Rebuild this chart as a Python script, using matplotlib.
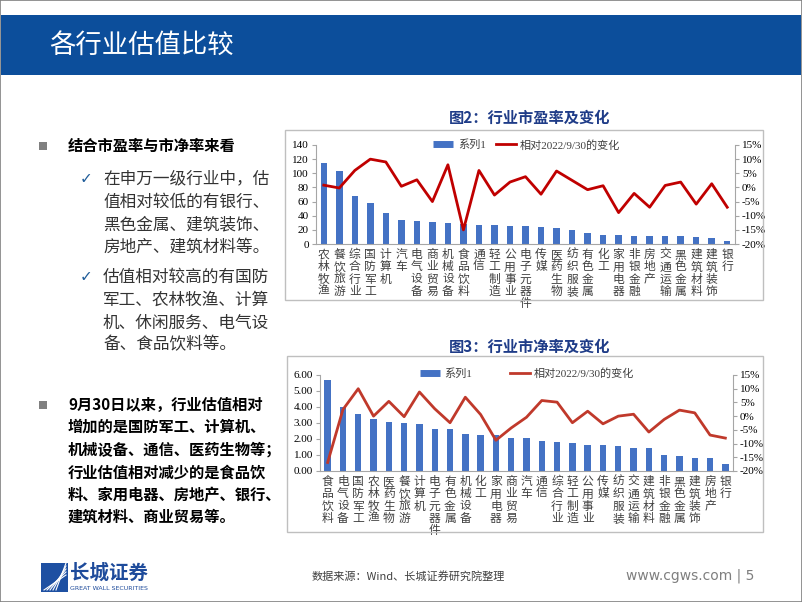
import matplotlib
matplotlib.use("Agg")
import matplotlib.pyplot as plt
from matplotlib.patches import Rectangle
from matplotlib.lines import Line2D
import numpy as np

plt.rcParams['font.family'] = ['Noto Sans CJK SC', 'DejaVu Sans']
plt.rcParams['axes.unicode_minus'] = False

# 图2 市盈率
pe_cats = ['农林牧渔', '餐饮旅游', '综合行业', '国防军工', '计算机', '汽车', '电气设备',
           '商业贸易', '机械设备', '食品饮料', '通信', '轻工制造', '公用事业', '电子元器件',
           '传媒', '医药生物', '纺织服装', '有色金属', '化工', '家用电器', '非银金融',
           '房地产', '交通运输', '黑色金属', '建筑材料', '建筑装饰', '银行']
pe_vals = [114, 103, 68, 57.5, 43.5, 33.5, 33, 30.7, 29.8, 28, 27, 26.8, 26, 25.5,
           24.6, 22.7, 19.9, 15.6, 13.2, 12.3, 11.8, 10.9, 10.9, 10.8, 10.4, 9.0, 4.3]
pe_chg = [0.8, -0.2, 6.0, 10.0, 9.0, 0.4, 2.7, -5.0, 8.0, -15.0, 6.0, -2.7, 1.9, 3.8,
          -2.4, 5.8, 2.5, -0.8, 0.6, -8.9, -2.1, -7.0, 0.7, 1.9, -5.9, 1.3, -7.0]

# 图3 市净率
pb_cats = ['食品饮料', '电气设备', '国防军工', '农林牧渔', '医药生物', '餐饮旅游', '计算机',
           '电子元器件', '有色金属', '机械设备', '化工', '家用电器', '商业贸易', '汽车',
           '通信', '综合行业', '轻工制造', '公用事业', '传媒', '纺织服装', '交通运输',
           '建筑材料', '非银金融', '黑色金属', '建筑装饰', '房地产', '银行']
pb_vals = [5.67, 3.98, 3.56, 3.27, 3.06, 2.98, 2.94, 2.65, 2.65, 2.31, 2.27, 2.23, 2.08,
           2.06, 1.85, 1.81, 1.77, 1.65, 1.63, 1.58, 1.44, 1.42, 1.02, 0.92, 0.81, 0.81, 0.44]
pb_chg = [-16.9, 2.4, 10.0, 0.0, 5.4, -0.2, 8.8, 2.7, -2.4, 6.9, 0.6, -8.8, -4.3, -0.4,
          5.7, 5.1, -2.4, 1.8, -2.8, 0.0, 0.7, -5.8, -1.2, 2.2, 1.2, -6.9, -8.0]

W, H = 802, 602
BLUE = '#4472C4'
NUMFONT = ['Liberation Serif', 'Noto Sans CJK SC']


def fx(x):
    return x / W


def fy(y):
    return 1 - y / H


fig = plt.figure(figsize=(W / 100, H / 100), dpi=100)

# 边框与标题栏
fig.patches.append(Rectangle((0, 0), 1, 1, transform=fig.transFigure, fill=False,
                             edgecolor='#808080', lw=1.2))
fig.patches.append(Rectangle((fx(1), fy(75)), fx(800), 60 / H, transform=fig.transFigure,
                             facecolor='#0C4E9B', edgecolor='none'))
fig.text(fx(49), fy(45), '各行业估值比较', color='white', fontsize=19, va='center')

# 左侧文字
fig.patches.append(Rectangle((fx(39), fy(150)), 8 / W, 8 / H, transform=fig.transFigure,
                             facecolor='#808080', edgecolor='none'))
fig.text(fx(68), fy(146), '结合市盈率与市净率来看', fontsize=11, fontweight='bold', va='center')

block1 = ['在申万一级行业中，估', '值相对较低的有银行、', '黑色金属、建筑装饰、', '房地产、建筑材料等。']
block2 = ['估值相对较高的有国防', '军工、农林牧渔、计算', '机、休闲服务、电气设', '备、食品饮料等。']
for ys, lines in [([179, 202, 225, 247], block1), ([277, 300, 323, 345], block2)]:
    fig.text(fx(80), fy(ys[0]), '✓', color='#1F5C99', fontsize=11, va='center',
             family='DejaVu Sans')
    for y, s in zip(ys, lines):
        fig.text(fx(103), fy(y), s, fontsize=12, color='#333333', va='center')

fig.patches.append(Rectangle((fx(39), fy(409)), 8 / W, 8 / H, transform=fig.transFigure,
                             facecolor='#808080', edgecolor='none'))
block3 = ['9月30日以来，行业估值相对', '增加的是国防军工、计算机、', '机械设备、通信、医药生物等；',
          '行业估值相对减少的是食品饮', '料、家用电器、房地产、银行、', '建筑材料、商业贸易等。']
for y, s in zip([405, 427, 450, 473, 495, 517], block3):
    fig.text(fx(68), fy(y), s, fontsize=11, fontweight='bold', va='center')


def draw_chart(frame, box, title, title_y, cats, vals, chg, ylim, yticks, yfmt,
               line_color, legend_y, colspace):
    l, t, r, b = frame
    fig.patches.append(Rectangle((fx(l), fy(b)), (r - l) / W, (b - t) / H,
                                 transform=fig.transFigure, fill=False,
                                 edgecolor='#BFBFBF', lw=1))
    fig.text(fx(530), fy(title_y), title, fontsize=11, fontweight='bold',
             color='#1F3C88', ha='center', va='center')
    x0, y0, x1, y1 = box
    ax = fig.add_axes([fx(x0), fy(y1), (x1 - x0) / W, (y1 - y0) / H])
    x = np.arange(len(cats))
    ax.bar(x, vals, width=0.42, color=BLUE, zorder=2)
    ax.set_xlim(-0.5, len(cats) - 0.5)
    ax.set_ylim(*ylim)
    ax.set_yticks(yticks)
    ax.set_yticklabels([yfmt(v) for v in yticks], family=NUMFONT, fontsize=8)
    ax.set_xticks(x)
    ax.set_xticklabels(['\n'.join(c) for c in cats], fontsize=8.5, linespacing=0.92,
                       color='#404040', va='top')
    ax.tick_params(axis='x', length=0, pad=3)
    ax.tick_params(axis='y', length=3, color='#A6A6A6', pad=2)
    for s in ['top', 'right']:
        ax.spines[s].set_visible(False)
    for s in ['left', 'bottom']:
        ax.spines[s].set_color('#A6A6A6')
        ax.spines[s].set_linewidth(0.8)

    ax2 = ax.twinx()
    ax2.plot(x, chg, color=line_color, lw=2, zorder=3)
    ax2.set_ylim(-20, 15)
    rt = np.arange(-20, 16, 5)
    ax2.set_yticks(rt)
    ax2.set_yticklabels([f'{v}%' for v in rt], family=NUMFONT, fontsize=8)
    ax2.tick_params(axis='y', length=3, color='#A6A6A6', pad=2)
    for s in ['top', 'left', 'bottom']:
        ax2.spines[s].set_visible(False)
    ax2.spines['right'].set_color('#A6A6A6')
    ax2.spines['right'].set_linewidth(0.8)

    handles = [Line2D([], [], color=BLUE, lw=5, solid_capstyle='butt'),
               Line2D([], [], color=line_color, lw=2)]
    fig.legend(handles, ['系列1', '相对2022/9/30的变化'], loc='center',
               bbox_to_anchor=(fx(527), fy(legend_y)), ncol=2, frameon=False,
               prop={'family': NUMFONT, 'size': 8}, handlelength=1.8,
               handletextpad=0.4, columnspacing=colspace, labelcolor='#404040')


draw_chart((285, 130, 763, 300), (316, 145, 735, 244), '图2：行业市盈率及变化', 118,
           pe_cats, pe_vals, pe_chg, (0, 140), list(range(0, 141, 20)),
           lambda v: f'{v}', '#C00000', 145, 0.9)
draw_chart((287, 356, 763, 532), (320, 375, 733, 471), '图3：行业市净率及变化', 347,
           pb_cats, pb_vals, pb_chg, (0, 6), [0, 1, 2, 3, 4, 5, 6],
           lambda v: f'{v:.2f}', '#C0392B', 374, 3.4)

# 页脚
fig.patches.append(Rectangle((fx(41), fy(592)), 27 / W, 29 / H, transform=fig.transFigure,
                             facecolor='#1E50A2', edgecolor='none'))
for i in range(5):
    fig.add_artist(Line2D([fx(44 + i * 3), fx(66)], [fy(590), fy(575 - i * 3)],
                          transform=fig.transFigure, color='white', lw=0.8))
fig.text(fx(70), fy(573), '长城证券', fontsize=14, color='#1E4B9B', va='center',
         fontweight='bold')
fig.text(fx(70), fy(588), 'GREAT WALL SECURITIES', fontsize=4.5, color='#1E4B9B',
         va='center', family='DejaVu Sans')
fig.text(fx(312), fy(576), '数据来源：Wind、长城证券研究院整理', fontsize=8,
         color='#404040', va='center')
fig.text(fx(754), fy(576), 'www.cgws.com | 5', fontsize=10, color='#7F7F7F',
         va='center', ha='right', family='DejaVu Sans')

fig.savefig('out.png', dpi=100)
